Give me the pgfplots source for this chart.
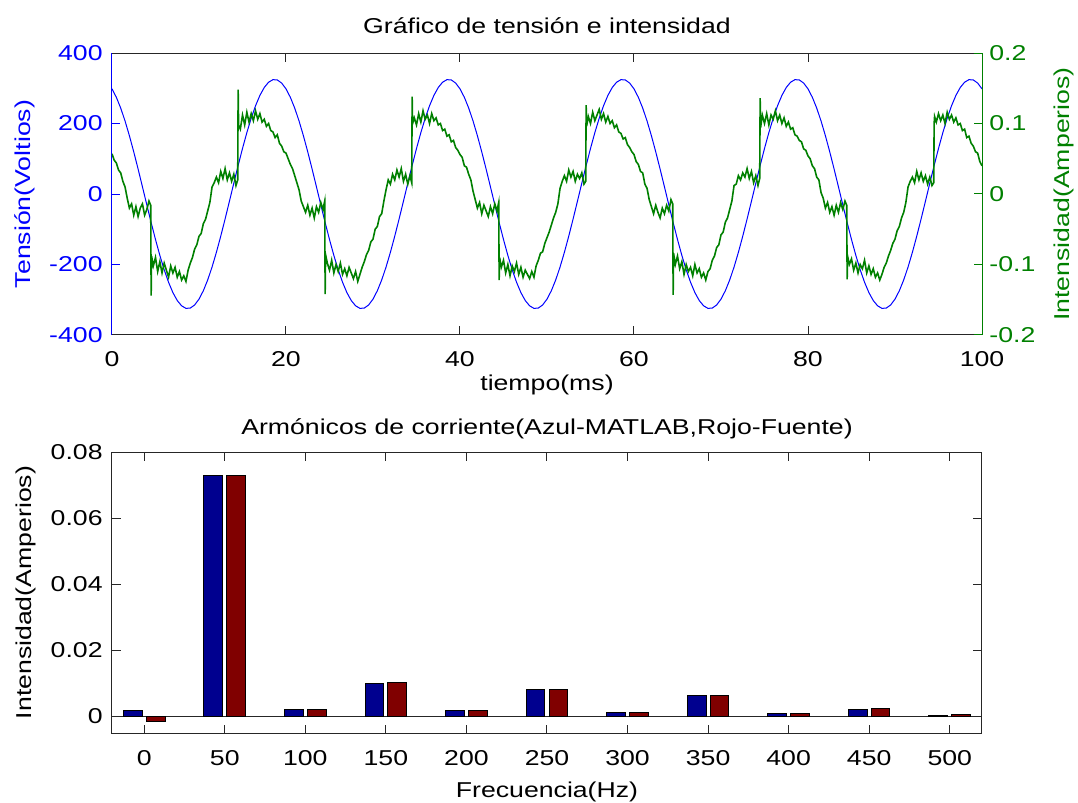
\documentclass[border=0pt]{standalone}
\usepackage{fontspec}
\setmainfont{Liberation Sans}[FakeStretch=1.24]
\usepackage{pgfplots}
\pgfplotsset{compat=1.18}
\definecolor{mblue}{rgb}{0,0,1}
\definecolor{mgreen}{rgb}{0,0.5,0}
\definecolor{barblue}{rgb}{0,0,0.5625}
\definecolor{barred}{rgb}{0.5,0,0}
\newcommand{\fs}{\fontsize{10.75}{12.9}\selectfont}
\begin{document}
\fs
\begin{tikzpicture}
\useasboundingbox (-56pt,-234pt) rectangle (483pt,167.5pt);
\pgfplotsset{
  every axis/.append style={
    scale only axis, width=435pt, font=\fs,
    tick align=inside, major tick length=4.25pt,
    scaled ticks=false,
    tick label style={font=\fs},
    every axis title/.style={at={(0.5,1)}, anchor=base, yshift=10pt, font=\fs},
    every axis x label/.style={at={(0.5,0)}, anchor=base, yshift=-32.5pt, font=\fs},
    xticklabel style={anchor=base, yshift=-16pt, inner sep=0pt},
  }
}
% ---------- top: voltage ----------
\begin{axis}[
  at={(0,0)}, anchor=south west, height=141pt,
  xmin=0, xmax=100, ymin=-400, ymax=400,
  axis x line=box, axis y line*=left,
  x axis line style={black!85, line width=0.5pt, -},
  y axis line style={mblue, line width=0.5pt, -},
  xtick={0,20,40,60,80,100}, xticklabels={0,20,40,60,80,100},
  ytick={-400,-200,0,200,400}, yticklabels={-400,-200,0,200,400},
  xtick style={black!85, line width=0.5pt},
  ytick style={mblue, line width=0.5pt},
  yticklabel style={mblue, anchor=east, inner sep=0pt, xshift=-4.5pt},
  every axis y label/.style={at={(axis description cs:-0.0935,0.5)}, rotate=90, anchor=base, font=\fs},
  ylabel={Tensión(Voltios)}, ylabel style={mblue},
  title={Gráfico de tensión e intensidad},
  xlabel={tiempo(ms)},
]
\addplot[mblue, line width=0.5pt] coordinates {
(0,298.3)(0.5,274.4)(1,243.8)(1.5,207.2)(2,165.4)(2.5,119.6)(3,70.9)(3.5,20.4)(4,-30.6)(4.5,-80.8)
(5,-129.1)(5.5,-174.1)(6,-214.9)(6.5,-250.4)(7,-279.7)(7.5,-302.2)(8,-317.2)(8.5,-324.4)(9,-323.6)(9.5,-314.8)
(10,-298.3)(10.5,-274.4)(11,-243.8)(11.5,-207.2)(12,-165.4)(12.5,-119.6)(13,-70.9)(13.5,-20.4)(14,30.6)(14.5,80.8)
(15,129.1)(15.5,174.1)(16,214.9)(16.5,250.4)(17,279.7)(17.5,302.2)(18,317.2)(18.5,324.4)(19,323.6)(19.5,314.8)
(20,298.3)(20.5,274.4)(21,243.8)(21.5,207.2)(22,165.4)(22.5,119.6)(23,70.9)(23.5,20.4)(24,-30.6)(24.5,-80.8)
(25,-129.1)(25.5,-174.1)(26,-214.9)(26.5,-250.4)(27,-279.7)(27.5,-302.2)(28,-317.2)(28.5,-324.4)(29,-323.6)(29.5,-314.8)
(30,-298.3)(30.5,-274.4)(31,-243.8)(31.5,-207.2)(32,-165.4)(32.5,-119.6)(33,-70.9)(33.5,-20.4)(34,30.6)(34.5,80.8)
(35,129.1)(35.5,174.1)(36,214.9)(36.5,250.4)(37,279.7)(37.5,302.2)(38,317.2)(38.5,324.4)(39,323.6)(39.5,314.8)
(40,298.3)(40.5,274.4)(41,243.8)(41.5,207.2)(42,165.4)(42.5,119.6)(43,70.9)(43.5,20.4)(44,-30.6)(44.5,-80.8)
(45,-129.1)(45.5,-174.1)(46,-214.9)(46.5,-250.4)(47,-279.7)(47.5,-302.2)(48,-317.2)(48.5,-324.4)(49,-323.6)(49.5,-314.8)
(50,-298.3)(50.5,-274.4)(51,-243.8)(51.5,-207.2)(52,-165.4)(52.5,-119.6)(53,-70.9)(53.5,-20.4)(54,30.6)(54.5,80.8)
(55,129.1)(55.5,174.1)(56,214.9)(56.5,250.4)(57,279.7)(57.5,302.2)(58,317.2)(58.5,324.4)(59,323.6)(59.5,314.8)
(60,298.3)(60.5,274.4)(61,243.8)(61.5,207.2)(62,165.4)(62.5,119.6)(63,70.9)(63.5,20.4)(64,-30.6)(64.5,-80.8)
(65,-129.1)(65.5,-174.1)(66,-214.9)(66.5,-250.4)(67,-279.7)(67.5,-302.2)(68,-317.2)(68.5,-324.4)(69,-323.6)(69.5,-314.8)
(70,-298.3)(70.5,-274.4)(71,-243.8)(71.5,-207.2)(72,-165.4)(72.5,-119.6)(73,-70.9)(73.5,-20.4)(74,30.6)(74.5,80.8)
(75,129.1)(75.5,174.1)(76,214.9)(76.5,250.4)(77,279.7)(77.5,302.2)(78,317.2)(78.5,324.4)(79,323.6)(79.5,314.8)
(80,298.3)(80.5,274.4)(81,243.8)(81.5,207.2)(82,165.4)(82.5,119.6)(83,70.9)(83.5,20.4)(84,-30.6)(84.5,-80.8)
(85,-129.1)(85.5,-174.1)(86,-214.9)(86.5,-250.4)(87,-279.7)(87.5,-302.2)(88,-317.2)(88.5,-324.4)(89,-323.6)(89.5,-314.8)
(90,-298.3)(90.5,-274.4)(91,-243.8)(91.5,-207.2)(92,-165.4)(92.5,-119.6)(93,-70.9)(93.5,-20.4)(94,30.6)(94.5,80.8)
(95,129.1)(95.5,174.1)(96,214.9)(96.5,250.4)(97,279.7)(97.5,302.2)(98,317.2)(98.5,324.4)(99,323.6)(99.5,314.8)
(100,298.3)
};
\end{axis}
% ---------- top: current ----------
\begin{axis}[
  at={(0,0)}, anchor=south west, height=141pt,
  xmin=0, xmax=100, ymin=-0.2, ymax=0.2,
  axis x line=none, axis y line*=right,
  y axis line style={mgreen, line width=0.5pt, -},
  ytick={-0.2,-0.1,0,0.1,0.2}, yticklabels={-0.2,-0.1,0,0.1,0.2},
  ytick style={mgreen, line width=0.5pt},
  yticklabel style={mgreen, anchor=west, inner sep=0pt, xshift=3.5pt},
  every axis y label/.style={at={(axis description cs:1.1009,0.5)}, rotate=90, anchor=base, font=\fs},
  ylabel={Intensidad(Amperios)}, ylabel style={mgreen},
]
\addplot[mgreen, line width=0.8pt] coordinates {
(0,0.057)(0.25,0.048)(0.5,0.044)(0.75,0.034)(1,0.030)(1.25,0.018)(1.5,0.010)(1.75,-0.006)(2,-0.020)(2.25,-0.014)(2.5,-0.030)(2.75,-0.018)(3,-0.032)(3.25,-0.020)(3.5,-0.014)(3.75,-0.030)(4,-0.022)(4.25,-0.010)(4.45,-0.016)(4.5,-0.144)(4.55,-0.088)(4.75,-0.102)(5,-0.090)(5.25,-0.110)(5.5,-0.096)(5.75,-0.112)(6,-0.098)(6.25,-0.108)(6.5,-0.118)(6.75,-0.102)(7,-0.112)(7.25,-0.104)(7.5,-0.118)(7.75,-0.110)(8,-0.122)(8.25,-0.116)(8.5,-0.124)(8.75,-0.108)(9,-0.098)(9.25,-0.090)(9.5,-0.078)(9.75,-0.072)(10,-0.060)(10.25,-0.056)(10.5,-0.042)(10.75,-0.036)(11,-0.024)(11.25,-0.012)(11.5,0.010)(11.75,0.016)(12,0.024)(12.25,0.016)(12.5,0.032)(12.75,0.022)(13,0.036)(13.25,0.020)(13.5,0.030)(13.75,0.018)(14,0.028)(14.25,0.012)(14.45,0.020)(14.5,0.148)(14.55,0.098)(14.75,0.092)(15,0.112)(15.25,0.098)(15.5,0.116)(15.75,0.102)(16,0.114)(16.25,0.104)(16.5,0.118)(16.75,0.106)(17,0.114)(17.25,0.102)(17.5,0.106)(17.75,0.096)(18,0.100)(18.25,0.090)(18.5,0.088)(18.75,0.080)(19,0.084)(19.25,0.072)(19.5,0.068)(19.75,0.060)
(20,0.058)(20.25,0.050)(20.5,0.042)(20.75,0.036)(21,0.026)(21.25,0.016)(21.5,0.006)(21.75,-0.010)(22,-0.018)(22.25,-0.026)(22.5,-0.016)(22.75,-0.030)(23,-0.020)(23.25,-0.034)(23.5,-0.018)(23.75,-0.026)(24,-0.012)(24.25,-0.022)(24.45,-0.010)(24.5,-0.142)(24.55,-0.086)(24.75,-0.098)(25,-0.108)(25.25,-0.094)(25.5,-0.112)(25.75,-0.100)(26,-0.110)(26.25,-0.098)(26.5,-0.114)(26.75,-0.106)(27,-0.116)(27.25,-0.104)(27.5,-0.112)(27.75,-0.120)(28,-0.110)(28.25,-0.124)(28.5,-0.114)(28.75,-0.104)(29,-0.096)(29.25,-0.086)(29.5,-0.080)(29.75,-0.068)(30,-0.064)(30.25,-0.050)(30.5,-0.046)(30.75,-0.032)(31,-0.028)(31.25,-0.010)(31.5,0.006)(31.75,0.020)(32,0.014)(32.25,0.028)(32.5,0.020)(32.75,0.034)(33,0.024)(33.25,0.036)(33.5,0.018)(33.75,0.028)(34,0.014)(34.25,0.026)(34.45,0.016)(34.5,0.138)(34.55,0.100)(34.75,0.108)(35,0.098)(35.25,0.114)(35.5,0.102)(35.75,0.118)(36,0.106)(36.25,0.112)(36.5,0.100)(36.75,0.114)(37,0.104)(37.25,0.108)(37.5,0.098)(37.75,0.100)(38,0.090)(38.25,0.092)(38.5,0.082)(38.75,0.084)(39,0.074)(39.25,0.076)(39.5,0.066)(39.75,0.062)
(40,0.056)(40.25,0.052)(40.5,0.040)(40.75,0.038)(41,0.028)(41.25,0.020)(41.5,0.004)(41.75,-0.008)(42,-0.020)(42.25,-0.012)(42.5,-0.028)(42.75,-0.016)(43,-0.024)(43.25,-0.032)(43.5,-0.018)(43.75,-0.028)(44,-0.014)(44.25,-0.024)(44.45,-0.012)(44.5,-0.122)(44.55,-0.090)(44.75,-0.104)(45,-0.094)(45.25,-0.112)(45.5,-0.100)(45.75,-0.116)(46,-0.102)(46.25,-0.110)(46.5,-0.098)(46.75,-0.114)(47,-0.104)(47.25,-0.118)(47.5,-0.108)(47.75,-0.114)(48,-0.120)(48.25,-0.110)(48.5,-0.118)(48.75,-0.102)(49,-0.094)(49.25,-0.084)(49.5,-0.082)(49.75,-0.070)(50,-0.062)(50.25,-0.054)(50.5,-0.044)(50.75,-0.034)(51,-0.026)(51.25,-0.014)(51.5,0.008)(51.75,0.018)(52,0.026)(52.25,0.018)(52.5,0.034)(52.75,0.024)(53,0.032)(53.25,0.018)(53.5,0.028)(53.75,0.022)(54,0.030)(54.25,0.014)(54.45,0.018)(54.5,0.126)(54.55,0.096)(54.75,0.110)(55,0.100)(55.25,0.116)(55.5,0.104)(55.75,0.112)(56,0.120)(56.25,0.106)(56.5,0.114)(56.75,0.102)(57,0.110)(57.25,0.100)(57.5,0.104)(57.75,0.094)(58,0.098)(58.25,0.088)(58.5,0.086)(58.75,0.078)(59,0.080)(59.25,0.070)(59.5,0.066)(59.75,0.060)
(60,0.056)(60.25,0.046)(60.5,0.042)(60.75,0.032)(61,0.030)(61.25,0.014)(61.5,0.008)(61.75,-0.008)(62,-0.018)(62.25,-0.028)(62.5,-0.016)(62.75,-0.026)(63,-0.034)(63.25,-0.020)(63.5,-0.028)(63.75,-0.016)(64,-0.024)(64.25,-0.008)(64.45,-0.014)(64.5,-0.143)(64.55,-0.084)(64.75,-0.100)(65,-0.088)(65.25,-0.106)(65.5,-0.096)(65.75,-0.114)(66,-0.100)(66.25,-0.110)(66.5,-0.104)(66.75,-0.116)(67,-0.100)(67.25,-0.112)(67.5,-0.106)(67.75,-0.118)(68,-0.112)(68.25,-0.122)(68.5,-0.110)(68.75,-0.106)(69,-0.094)(69.25,-0.088)(69.5,-0.076)(69.75,-0.072)(70,-0.058)(70.25,-0.054)(70.5,-0.040)(70.75,-0.034)(71,-0.022)(71.25,-0.010)(71.5,0.012)(71.75,0.014)(72,0.026)(72.25,0.020)(72.5,0.030)(72.75,0.024)(73,0.036)(73.25,0.022)(73.5,0.032)(73.75,0.016)(74,0.026)(74.25,0.012)(74.45,0.022)(74.5,0.136)(74.55,0.094)(74.75,0.112)(75,0.100)(75.25,0.114)(75.5,0.098)(75.75,0.112)(76,0.106)(76.25,0.118)(76.5,0.104)(76.75,0.112)(77,0.100)(77.25,0.108)(77.5,0.096)(77.75,0.102)(78,0.092)(78.25,0.094)(78.5,0.084)(78.75,0.082)(79,0.076)(79.25,0.074)(79.5,0.064)(79.75,0.062)
(80,0.054)(80.25,0.050)(80.5,0.040)(80.75,0.036)(81,0.024)(81.25,0.020)(81.5,0.002)(81.75,-0.006)(82,-0.020)(82.25,-0.012)(82.5,-0.026)(82.75,-0.018)(83,-0.030)(83.25,-0.016)(83.5,-0.026)(83.75,-0.012)(84,-0.022)(84.25,-0.010)(84.45,-0.016)(84.5,-0.121)(84.55,-0.088)(84.75,-0.100)(85,-0.092)(85.25,-0.108)(85.5,-0.098)(85.75,-0.112)(86,-0.100)(86.25,-0.106)(86.5,-0.094)(86.75,-0.112)(87,-0.102)(87.25,-0.114)(87.5,-0.106)(87.75,-0.118)(88,-0.112)(88.25,-0.122)(88.5,-0.114)(88.75,-0.104)(89,-0.098)(89.25,-0.088)(89.5,-0.080)(89.75,-0.070)(90,-0.064)(90.25,-0.052)(90.5,-0.046)(90.75,-0.034)(91,-0.026)(91.25,-0.012)(91.5,0.010)(91.75,0.018)(92,0.024)(92.25,0.016)(92.5,0.032)(92.75,0.020)(93,0.030)(93.25,0.018)(93.5,0.026)(93.75,0.014)(94,0.024)(94.25,0.012)(94.45,0.016)(94.5,0.100)(94.55,0.110)(94.75,0.102)(95,0.114)(95.25,0.104)(95.5,0.112)(95.75,0.100)(96,0.116)(96.25,0.106)(96.5,0.112)(96.75,0.102)(97,0.108)(97.25,0.098)(97.5,0.100)(97.75,0.090)(98,0.092)(98.25,0.080)(98.5,0.082)(98.75,0.072)(99,0.068)(99.25,0.060)(99.5,0.058)(99.75,0.046)(100,0.040)
};
\end{axis}
% ---------- bottom: harmonics ----------
\begin{axis}[
  at={(0,-199pt)}, anchor=south west, height=140.5pt,
  xmin=-20, xmax=520, ymin=-0.005, ymax=0.08,
  axis line style={black!85, line width=0.5pt},
  xtick={0,50,100,150,200,250,300,350,400,450,500},
  xticklabels={0,50,100,150,200,250,300,350,400,450,500},
  ytick={0,0.02,0.04,0.06,0.08}, yticklabels={0,0.02,0.04,0.06,0.08},
  tick style={black!85, line width=0.5pt},
  yticklabel style={anchor=east, inner sep=0pt, xshift=-4.5pt},
  every axis y label/.style={at={(axis description cs:-0.092,0.5)}, rotate=90, anchor=base, font=\fs},
  ylabel={Intensidad(Amperios)},
  xlabel={Frecuencia(Hz)},
  title={Armónicos de corriente(Azul-MATLAB,Rojo-Fuente)},
  title style={yshift=-1.25pt},
  xlabel style={yshift=0.25pt},
]
\addplot[black!85, line width=0.5pt, forget plot] coordinates {(-20,0) (520,0)};
\addplot[ybar, bar width=11.6, bar shift=-7.1, fill=barblue, draw=black, line width=0.5pt] coordinates {
(0,0.0019)(50,0.0728)(100,0.0021)(150,0.0101)(200,0.0019)(250,0.0081)(300,0.0013)(350,0.0063)(400,0.0008)(450,0.0022)(500,0.0004)
};
\addplot[ybar, bar width=11.6, bar shift=7.1, fill=barred, draw=black, line width=0.5pt] coordinates {
(0,-0.0016)(50,0.0728)(100,0.0020)(150,0.0103)(200,0.0017)(250,0.0081)(300,0.0013)(350,0.0063)(400,0.0008)(450,0.0024)(500,0.0005)
};
\end{axis}
\end{tikzpicture}
\end{document}
